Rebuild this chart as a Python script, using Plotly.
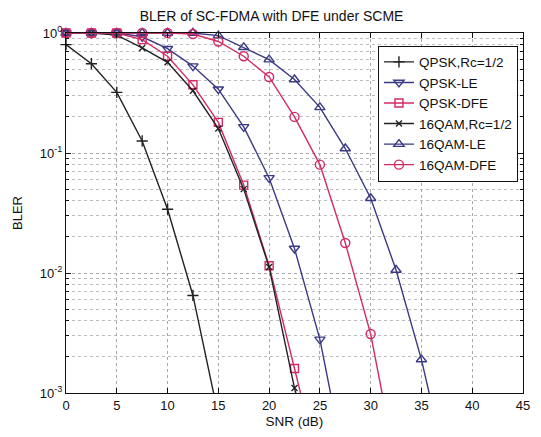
import plotly.graph_objects as go

snr = [0, 2.5, 5, 7.5, 10, 12.5, 15, 17.5, 20, 22.5, 25, 27.5, 30, 32.5, 35, 37.5]

qpsk_rc = [0.80, 0.555, 0.32, 0.126, 0.034, 0.0065, 0.00065]
qpsk_le = [1.0, 1.0, 1.0, 0.93, 0.74, 0.53, 0.34, 0.165, 0.062, 0.016, 0.0028, 0.00024]
qpsk_dfe = [1.0, 1.0, 1.0, 0.88, 0.64, 0.37, 0.18, 0.054, 0.0115, 0.0016, 0.00022]
qam_rc = [1.0, 1.0, 0.96, 0.75, 0.57, 0.33, 0.16, 0.05, 0.0112, 0.0011, 0.00016]
qam_le = [1.0, 1.0, 1.0, 1.0, 1.0, 1.0, 0.95, 0.76, 0.60, 0.41, 0.24, 0.109, 0.042, 0.0106, 0.0019, 0.00023]
qam_dfe = [1.0, 1.0, 1.0, 1.0, 1.0, 0.98, 0.85, 0.64, 0.43, 0.20, 0.08, 0.0178, 0.0031, 0.00025]

names = ["QPSK,Rc=1/2", "QPSK-LE", "QPSK-DFE", "16QAM,Rc=1/2", "16QAM-LE", "16QAM-DFE"]
series = [qpsk_rc, qpsk_le, qpsk_dfe, qam_rc, qam_le, qam_dfe]

x_ticks = [0, 5, 10, 15, 20, 25, 30, 35, 40, 45]
y_ticks = [1e-3, 1e-2, 1e-1, 1]
y_ticktext = ["10<sup>-3</sup>", "10<sup>-2</sup>", "10<sup>-1</sup>", "10<sup>0</sup>"]
y_minor = [m * 10.0 ** e for e in (-3, -2, -1) for m in range(2, 10)]

BLACK = "#222222"
BLUE = "#3a3a85"
PINK = "#d42a62"
colors = [BLACK, BLUE, PINK, BLACK, BLUE, PINK]
symbols = ["cross-thin-open", "triangle-down-open", "square-open", "x-thin-open",
           "triangle-up-open", "circle-open"]
sizes = [8, 9, 8, 6, 9, 9]

fig = go.Figure()
for name, ys, c, s, sz in zip(names, series, colors, symbols, sizes):
    fig.add_trace(go.Scatter(
        x=snr[:len(ys)], y=ys, name=name, mode="lines+markers",
        line=dict(color=c, width=1.4),
        marker=dict(symbol=s, size=sz, color=c, line=dict(color=c, width=1.4)),
        cliponaxis=False,
    ))

axis_font = dict(family="Liberation Sans, Arial, sans-serif", size=13, color="#111")
grid = dict(showgrid=True, gridcolor="#a8a8a8", griddash="dot", gridwidth=1)

fig.update_layout(
    width=541, height=437,
    margin=dict(l=66, r=11, t=33, b=39),
    paper_bgcolor="white", plot_bgcolor="white",
    font=axis_font,
    title=dict(text="BLER of SC-FDMA with DFE under SCME", x=0.502, xanchor="center",
               y=1 - 16 / 437, yanchor="middle", font=dict(size=14)),
    legend=dict(x=0.989, xanchor="right", y=0.965, yanchor="top",
                bgcolor="white", bordercolor="#111", borderwidth=1,
                font=dict(size=13.5), tracegroupgap=0),
    showlegend=True,
)
fig.update_xaxes(
    range=[0, 45], tickmode="array", tickvals=x_ticks,
    ticks="inside", ticklen=5, tickcolor="#111", mirror="ticks",
    showline=True, linecolor="#111", linewidth=1.2, zeroline=False,
    title=dict(text="SNR (dB)", standoff=4, font=dict(size=13.5)), **grid,
)
fig.update_yaxes(
    type="log", range=[-3, 0], tickmode="array", tickvals=y_ticks, ticktext=y_ticktext,
    ticks="inside", ticklen=5, tickcolor="#111", mirror="ticks",
    showline=True, linecolor="#111", linewidth=1.2, zeroline=False,
    title=dict(text="BLER", standoff=14, font=dict(size=13)),
    minor=dict(tickmode="array", tickvals=y_minor, ticks="inside", ticklen=3,
               tickcolor="#111", showgrid=True, gridcolor="#bdbdbd", griddash="dot"),
    **grid,
)

fig.write_html("out.html")
